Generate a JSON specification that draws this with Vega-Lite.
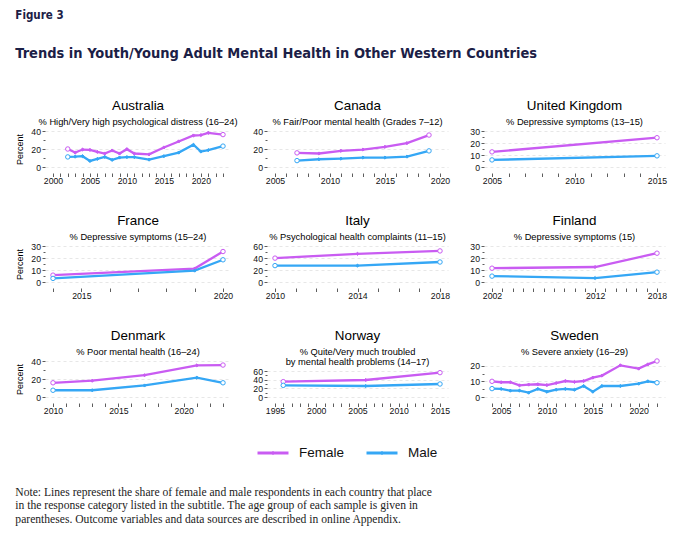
{
  "$schema": "https://vega.github.io/schema/vega-lite/v6.json",
  "background": "white",
  "padding": {"left": 15, "top": 10, "right": 10, "bottom": 8},
  "title": {
    "text": [
      "Note: Lines represent the share of female and male respondents in each country that place",
      "in the response category listed in the subtitle. The age group of each sample is given in",
      "parentheses. Outcome variables and data sources are described in online Appendix."
    ],
    "orient": "bottom", "anchor": "start", "frame": "bounds",
    "font": "Liberation Serif", "fontSize": 11.6, "fontWeight": "normal",
    "color": "#222222", "lineHeight": 13.3, "offset": 24
  },
  "data": {
    "values": [
      {"country": "Australia", "sex": "Female", "year": 2002, "pct": 20},
      {"country": "Australia", "sex": "Female", "year": 2003, "pct": 16},
      {"country": "Australia", "sex": "Female", "year": 2004, "pct": 19.4},
      {"country": "Australia", "sex": "Female", "year": 2005, "pct": 19},
      {"country": "Australia", "sex": "Female", "year": 2006, "pct": 16.8},
      {"country": "Australia", "sex": "Female", "year": 2007, "pct": 15},
      {"country": "Australia", "sex": "Female", "year": 2008, "pct": 18.3},
      {"country": "Australia", "sex": "Female", "year": 2009, "pct": 15},
      {"country": "Australia", "sex": "Female", "year": 2010, "pct": 19.8},
      {"country": "Australia", "sex": "Female", "year": 2011, "pct": 15},
      {"country": "Australia", "sex": "Female", "year": 2013, "pct": 14},
      {"country": "Australia", "sex": "Female", "year": 2015, "pct": 21.7},
      {"country": "Australia", "sex": "Female", "year": 2017, "pct": 28.4},
      {"country": "Australia", "sex": "Female", "year": 2019, "pct": 35},
      {"country": "Australia", "sex": "Female", "year": 2020, "pct": 35.5},
      {"country": "Australia", "sex": "Female", "year": 2021, "pct": 38},
      {"country": "Australia", "sex": "Female", "year": 2023, "pct": 36},
      {"country": "Australia", "sex": "Male", "year": 2002, "pct": 11.2},
      {"country": "Australia", "sex": "Male", "year": 2003, "pct": 11.5},
      {"country": "Australia", "sex": "Male", "year": 2004, "pct": 12},
      {"country": "Australia", "sex": "Male", "year": 2005, "pct": 6.7},
      {"country": "Australia", "sex": "Male", "year": 2006, "pct": 9},
      {"country": "Australia", "sex": "Male", "year": 2007, "pct": 11.2},
      {"country": "Australia", "sex": "Male", "year": 2008, "pct": 7.9},
      {"country": "Australia", "sex": "Male", "year": 2009, "pct": 10.5},
      {"country": "Australia", "sex": "Male", "year": 2010, "pct": 11},
      {"country": "Australia", "sex": "Male", "year": 2011, "pct": 11},
      {"country": "Australia", "sex": "Male", "year": 2013, "pct": 8.2},
      {"country": "Australia", "sex": "Male", "year": 2015, "pct": 12},
      {"country": "Australia", "sex": "Male", "year": 2017, "pct": 16},
      {"country": "Australia", "sex": "Male", "year": 2019, "pct": 24.7},
      {"country": "Australia", "sex": "Male", "year": 2020, "pct": 17.2},
      {"country": "Australia", "sex": "Male", "year": 2021, "pct": 18.7},
      {"country": "Australia", "sex": "Male", "year": 2023, "pct": 23.2},
      {"country": "Canada", "sex": "Female", "year": 2007, "pct": 15.7},
      {"country": "Canada", "sex": "Female", "year": 2009, "pct": 15},
      {"country": "Canada", "sex": "Female", "year": 2011, "pct": 18},
      {"country": "Canada", "sex": "Female", "year": 2013, "pct": 19.4},
      {"country": "Canada", "sex": "Female", "year": 2015, "pct": 22.4},
      {"country": "Canada", "sex": "Female", "year": 2017, "pct": 26.5},
      {"country": "Canada", "sex": "Female", "year": 2019, "pct": 35.5},
      {"country": "Canada", "sex": "Male", "year": 2007, "pct": 7.1},
      {"country": "Canada", "sex": "Male", "year": 2009, "pct": 8.6},
      {"country": "Canada", "sex": "Male", "year": 2011, "pct": 9.3},
      {"country": "Canada", "sex": "Male", "year": 2013, "pct": 10.5},
      {"country": "Canada", "sex": "Male", "year": 2015, "pct": 10.5},
      {"country": "Canada", "sex": "Male", "year": 2017, "pct": 11.6},
      {"country": "Canada", "sex": "Male", "year": 2019, "pct": 17.9},
      {"country": "United Kingdom", "sex": "Female", "year": 2005, "pct": 12.6},
      {"country": "United Kingdom", "sex": "Female", "year": 2015, "pct": 24.4},
      {"country": "United Kingdom", "sex": "Male", "year": 2005, "pct": 5.9},
      {"country": "United Kingdom", "sex": "Male", "year": 2015, "pct": 9.3},
      {"country": "France", "sex": "Female", "year": 2014, "pct": 5.7},
      {"country": "France", "sex": "Female", "year": 2019, "pct": 11.2},
      {"country": "France", "sex": "Female", "year": 2020, "pct": 25.4},
      {"country": "France", "sex": "Male", "year": 2014, "pct": 3},
      {"country": "France", "sex": "Male", "year": 2019, "pct": 9.5},
      {"country": "France", "sex": "Male", "year": 2020, "pct": 18.5},
      {"country": "Italy", "sex": "Female", "year": 2010, "pct": 39.8},
      {"country": "Italy", "sex": "Female", "year": 2014, "pct": 47},
      {"country": "Italy", "sex": "Female", "year": 2018, "pct": 51.8},
      {"country": "Italy", "sex": "Male", "year": 2010, "pct": 27.3},
      {"country": "Italy", "sex": "Male", "year": 2014, "pct": 27.3},
      {"country": "Italy", "sex": "Male", "year": 2018, "pct": 33.3},
      {"country": "Finland", "sex": "Female", "year": 2002, "pct": 11.5},
      {"country": "Finland", "sex": "Female", "year": 2012, "pct": 12.5},
      {"country": "Finland", "sex": "Female", "year": 2018, "pct": 24},
      {"country": "Finland", "sex": "Male", "year": 2002, "pct": 4.9},
      {"country": "Finland", "sex": "Male", "year": 2012, "pct": 3.3},
      {"country": "Finland", "sex": "Male", "year": 2018, "pct": 8.2},
      {"country": "Denmark", "sex": "Female", "year": 2010, "pct": 15.8},
      {"country": "Denmark", "sex": "Female", "year": 2013, "pct": 18.1},
      {"country": "Denmark", "sex": "Female", "year": 2017, "pct": 24.2},
      {"country": "Denmark", "sex": "Female", "year": 2021, "pct": 35.1},
      {"country": "Denmark", "sex": "Female", "year": 2023, "pct": 35.5},
      {"country": "Denmark", "sex": "Male", "year": 2010, "pct": 7.5},
      {"country": "Denmark", "sex": "Male", "year": 2013, "pct": 7.5},
      {"country": "Denmark", "sex": "Male", "year": 2017, "pct": 12.8},
      {"country": "Denmark", "sex": "Male", "year": 2021, "pct": 21.5},
      {"country": "Denmark", "sex": "Male", "year": 2023, "pct": 15.8},
      {"country": "Norway", "sex": "Female", "year": 1996, "pct": 35.4},
      {"country": "Norway", "sex": "Female", "year": 2006, "pct": 39.2},
      {"country": "Norway", "sex": "Female", "year": 2015, "pct": 56.2},
      {"country": "Norway", "sex": "Male", "year": 1996, "pct": 26.9},
      {"country": "Norway", "sex": "Male", "year": 2006, "pct": 25.4},
      {"country": "Norway", "sex": "Male", "year": 2015, "pct": 30},
      {"country": "Sweden", "sex": "Female", "year": 2004, "pct": 10.1},
      {"country": "Sweden", "sex": "Female", "year": 2005, "pct": 9.5},
      {"country": "Sweden", "sex": "Female", "year": 2006, "pct": 9.5},
      {"country": "Sweden", "sex": "Female", "year": 2007, "pct": 7.5},
      {"country": "Sweden", "sex": "Female", "year": 2008, "pct": 8},
      {"country": "Sweden", "sex": "Female", "year": 2009, "pct": 8.2},
      {"country": "Sweden", "sex": "Female", "year": 2010, "pct": 7.7},
      {"country": "Sweden", "sex": "Female", "year": 2011, "pct": 9},
      {"country": "Sweden", "sex": "Female", "year": 2012, "pct": 10.3},
      {"country": "Sweden", "sex": "Female", "year": 2013, "pct": 9.7},
      {"country": "Sweden", "sex": "Female", "year": 2014, "pct": 10.3},
      {"country": "Sweden", "sex": "Female", "year": 2015, "pct": 12.5},
      {"country": "Sweden", "sex": "Female", "year": 2016, "pct": 13.8},
      {"country": "Sweden", "sex": "Female", "year": 2018, "pct": 20.4},
      {"country": "Sweden", "sex": "Female", "year": 2020, "pct": 18.3},
      {"country": "Sweden", "sex": "Female", "year": 2021, "pct": 21},
      {"country": "Sweden", "sex": "Female", "year": 2022, "pct": 23.2},
      {"country": "Sweden", "sex": "Male", "year": 2004, "pct": 5.4},
      {"country": "Sweden", "sex": "Male", "year": 2005, "pct": 5.2},
      {"country": "Sweden", "sex": "Male", "year": 2006, "pct": 4.1},
      {"country": "Sweden", "sex": "Male", "year": 2007, "pct": 4.1},
      {"country": "Sweden", "sex": "Male", "year": 2008, "pct": 2.8},
      {"country": "Sweden", "sex": "Male", "year": 2009, "pct": 5.2},
      {"country": "Sweden", "sex": "Male", "year": 2010, "pct": 3.4},
      {"country": "Sweden", "sex": "Male", "year": 2011, "pct": 4.7},
      {"country": "Sweden", "sex": "Male", "year": 2012, "pct": 5.2},
      {"country": "Sweden", "sex": "Male", "year": 2013, "pct": 4.7},
      {"country": "Sweden", "sex": "Male", "year": 2014, "pct": 7.1},
      {"country": "Sweden", "sex": "Male", "year": 2015, "pct": 3.4},
      {"country": "Sweden", "sex": "Male", "year": 2016, "pct": 7.1},
      {"country": "Sweden", "sex": "Male", "year": 2018, "pct": 7.1},
      {"country": "Sweden", "sex": "Male", "year": 2020, "pct": 8.6},
      {"country": "Sweden", "sex": "Male", "year": 2021, "pct": 10.1},
      {"country": "Sweden", "sex": "Male", "year": 2022, "pct": 9.2}
    ]
  },
  "spacing": 27,
  "vconcat": [
    {
      "columns": 3,
      "bounds": "flush",
      "align": "each",
      "spacing": {"row": 67, "column": 36},
      "title": {
        "text": "Figure 3",
        "subtitle": "Trends in Youth/Young Adult Mental Health in Other Western Countries",
        "anchor": "start", "frame": "bounds",
        "font": "DejaVu Sans Condensed", "fontSize": 11.5, "fontWeight": "bold", "color": "#1b2046",
        "subtitleFont": "DejaVu Sans Condensed", "subtitleFontSize": 14.5, "subtitleFontWeight": "bold",
        "subtitleColor": "#1b2046", "subtitlePadding": 25, "offset": 39
      },
      "concat": [
        {
          "width": 186, "height": 48,
          "title": {"text": "Australia", "subtitle": "% High/Very high psychological distress (16–24)"},
          "transform": [
            {"filter": "datum.country == 'Australia'"},
            {"joinaggregate": [{"op": "min", "field": "year", "as": "first"}, {"op": "max", "field": "year", "as": "last"}], "groupby": ["sex"]}
          ],
          "encoding": {
            "x": {"field": "year", "type": "quantitative",
              "scale": {"domain": [2000, 2023], "padding": 8, "nice": false, "zero": false},
              "axis": {"title": null, "format": "d",
                "values": [2000, 2001, 2002, 2003, 2004, 2005, 2006, 2007, 2008, 2009, 2010, 2011, 2012, 2013, 2014, 2015, 2016, 2017, 2018, 2019, 2020, 2021, 2022, 2023],
                "labelExpr": "datum.value % 5 == 0 ? datum.label : ''"}},
            "y": {"field": "pct", "type": "quantitative",
              "scale": {"domain": [0, 40], "padding": 6, "nice": false},
              "axis": {"title": "Percent", "values": [0, 10, 20, 30, 40],
                "labelExpr": "datum.value % 20 == 0 ? datum.label : ''",
                "tickSize": {"condition": {"test": "datum.value % 20 == 0", "value": 3}, "value": 2},
                "gridOpacity": {"condition": {"test": "datum.value % 20 == 0", "value": 1}, "value": 0}}},
            "color": {"field": "sex", "type": "nominal", "legend": null}
          },
          "layer": [
            {"mark": {"type": "line", "strokeWidth": 2.3}},
            {"mark": {"type": "point", "filled": true, "strokeWidth": 1, "opacity": 1},
              "encoding": {
                "shape": {"condition": {"test": "datum.year == datum.first || datum.year == datum.last", "value": "circle"}, "value": "diamond"},
                "size": {"condition": {"test": "datum.year == datum.first || datum.year == datum.last", "value": 20}, "value": 10},
                "fill": {"condition": {"test": "datum.year == datum.first || datum.year == datum.last", "value": "white"}, "field": "sex", "type": "nominal", "legend": null},
                "stroke": {"field": "sex", "type": "nominal", "legend": null}
              }}
          ]
        },
        {
          "width": 181, "height": 48,
          "title": {"text": "Canada", "subtitle": "% Fair/Poor mental health (Grades 7–12)"},
          "transform": [
            {"filter": "datum.country == 'Canada'"},
            {"joinaggregate": [{"op": "min", "field": "year", "as": "first"}, {"op": "max", "field": "year", "as": "last"}], "groupby": ["sex"]}
          ],
          "encoding": {
            "x": {"field": "year", "type": "quantitative",
              "scale": {"domain": [2005, 2020], "padding": 8, "nice": false, "zero": false},
              "axis": {"title": null, "format": "d",
                "values": [2005, 2006, 2007, 2008, 2009, 2010, 2011, 2012, 2013, 2014, 2015, 2016, 2017, 2018, 2019, 2020],
                "labelExpr": "datum.value % 5 == 0 ? datum.label : ''"}},
            "y": {"field": "pct", "type": "quantitative",
              "scale": {"domain": [0, 40], "padding": 6, "nice": false},
              "axis": {"title": null, "values": [0, 10, 20, 30, 40],
                "labelExpr": "datum.value % 20 == 0 ? datum.label : ''",
                "tickSize": {"condition": {"test": "datum.value % 20 == 0", "value": 3}, "value": 2},
                "gridOpacity": {"condition": {"test": "datum.value % 20 == 0", "value": 1}, "value": 0}}},
            "color": {"field": "sex", "type": "nominal", "legend": null}
          },
          "layer": [
            {"mark": {"type": "line", "strokeWidth": 2.3}},
            {"mark": {"type": "point", "filled": true, "strokeWidth": 1, "opacity": 1},
              "encoding": {
                "shape": {"condition": {"test": "datum.year == datum.first || datum.year == datum.last", "value": "circle"}, "value": "diamond"},
                "size": {"condition": {"test": "datum.year == datum.first || datum.year == datum.last", "value": 20}, "value": 10},
                "fill": {"condition": {"test": "datum.year == datum.first || datum.year == datum.last", "value": "white"}, "field": "sex", "type": "nominal", "legend": null},
                "stroke": {"field": "sex", "type": "nominal", "legend": null}
              }}
          ]
        },
        {
          "width": 181, "height": 48,
          "title": {"text": "United Kingdom", "subtitle": "% Depressive symptoms (13–15)"},
          "transform": [
            {"filter": "datum.country == 'United Kingdom'"},
            {"joinaggregate": [{"op": "min", "field": "year", "as": "first"}, {"op": "max", "field": "year", "as": "last"}], "groupby": ["sex"]}
          ],
          "encoding": {
            "x": {"field": "year", "type": "quantitative",
              "scale": {"domain": [2005, 2015], "padding": 8, "nice": false, "zero": false},
              "axis": {"title": null, "format": "d",
                "values": [2005, 2006, 2007, 2008, 2009, 2010, 2011, 2012, 2013, 2014, 2015],
                "labelExpr": "datum.value % 5 == 0 ? datum.label : ''"}},
            "y": {"field": "pct", "type": "quantitative",
              "scale": {"domain": [0, 30], "padding": 6, "nice": false},
              "axis": {"title": null, "values": [0, 5, 10, 15, 20, 25, 30],
                "labelExpr": "datum.value % 10 == 0 ? datum.label : ''",
                "tickSize": {"condition": {"test": "datum.value % 10 == 0", "value": 3}, "value": 2},
                "gridOpacity": {"condition": {"test": "datum.value % 10 == 0", "value": 1}, "value": 0}}},
            "color": {"field": "sex", "type": "nominal", "legend": null}
          },
          "layer": [
            {"mark": {"type": "line", "strokeWidth": 2.3}},
            {"mark": {"type": "point", "filled": true, "strokeWidth": 1, "opacity": 1},
              "encoding": {
                "shape": {"condition": {"test": "datum.year == datum.first || datum.year == datum.last", "value": "circle"}, "value": "diamond"},
                "size": {"condition": {"test": "datum.year == datum.first || datum.year == datum.last", "value": 20}, "value": 10},
                "fill": {"condition": {"test": "datum.year == datum.first || datum.year == datum.last", "value": "white"}, "field": "sex", "type": "nominal", "legend": null},
                "stroke": {"field": "sex", "type": "nominal", "legend": null}
              }}
          ]
        },
        {
          "width": 186, "height": 48,
          "title": {"text": "France", "subtitle": "% Depressive symptoms (15–24)"},
          "transform": [
            {"filter": "datum.country == 'France'"},
            {"joinaggregate": [{"op": "min", "field": "year", "as": "first"}, {"op": "max", "field": "year", "as": "last"}], "groupby": ["sex"]}
          ],
          "encoding": {
            "x": {"field": "year", "type": "quantitative",
              "scale": {"domain": [2014, 2020], "padding": 8, "nice": false, "zero": false},
              "axis": {"title": null, "format": "d",
                "values": [2014, 2015, 2016, 2017, 2018, 2019, 2020],
                "labelExpr": "datum.value % 5 == 0 ? datum.label : ''"}},
            "y": {"field": "pct", "type": "quantitative",
              "scale": {"domain": [0, 30], "padding": 6, "nice": false},
              "axis": {"title": "Percent", "values": [0, 5, 10, 15, 20, 25, 30],
                "labelExpr": "datum.value % 10 == 0 ? datum.label : ''",
                "tickSize": {"condition": {"test": "datum.value % 10 == 0", "value": 3}, "value": 2},
                "gridOpacity": {"condition": {"test": "datum.value % 10 == 0", "value": 1}, "value": 0}}},
            "color": {"field": "sex", "type": "nominal", "legend": null}
          },
          "layer": [
            {"mark": {"type": "line", "strokeWidth": 2.3}},
            {"mark": {"type": "point", "filled": true, "strokeWidth": 1, "opacity": 1},
              "encoding": {
                "shape": {"condition": {"test": "datum.year == datum.first || datum.year == datum.last", "value": "circle"}, "value": "diamond"},
                "size": {"condition": {"test": "datum.year == datum.first || datum.year == datum.last", "value": 20}, "value": 10},
                "fill": {"condition": {"test": "datum.year == datum.first || datum.year == datum.last", "value": "white"}, "field": "sex", "type": "nominal", "legend": null},
                "stroke": {"field": "sex", "type": "nominal", "legend": null}
              }}
          ]
        },
        {
          "width": 181, "height": 48,
          "title": {"text": "Italy", "subtitle": "% Psychological health complaints (11–15)"},
          "transform": [
            {"filter": "datum.country == 'Italy'"},
            {"joinaggregate": [{"op": "min", "field": "year", "as": "first"}, {"op": "max", "field": "year", "as": "last"}], "groupby": ["sex"]}
          ],
          "encoding": {
            "x": {"field": "year", "type": "quantitative",
              "scale": {"domain": [2010, 2018], "padding": 8, "nice": false, "zero": false},
              "axis": {"title": null, "format": "d",
                "values": [2010, 2011, 2012, 2013, 2014, 2015, 2016, 2017, 2018],
                "labelExpr": "datum.value % 4 == 2 ? datum.label : ''"}},
            "y": {"field": "pct", "type": "quantitative",
              "scale": {"domain": [0, 60], "padding": 6, "nice": false},
              "axis": {"title": null, "values": [0, 10, 20, 30, 40, 50, 60],
                "labelExpr": "datum.value % 20 == 0 ? datum.label : ''",
                "tickSize": {"condition": {"test": "datum.value % 20 == 0", "value": 3}, "value": 2},
                "gridOpacity": {"condition": {"test": "datum.value % 20 == 0", "value": 1}, "value": 0}}},
            "color": {"field": "sex", "type": "nominal", "legend": null}
          },
          "layer": [
            {"mark": {"type": "line", "strokeWidth": 2.3}},
            {"mark": {"type": "point", "filled": true, "strokeWidth": 1, "opacity": 1},
              "encoding": {
                "shape": {"condition": {"test": "datum.year == datum.first || datum.year == datum.last", "value": "circle"}, "value": "diamond"},
                "size": {"condition": {"test": "datum.year == datum.first || datum.year == datum.last", "value": 20}, "value": 10},
                "fill": {"condition": {"test": "datum.year == datum.first || datum.year == datum.last", "value": "white"}, "field": "sex", "type": "nominal", "legend": null},
                "stroke": {"field": "sex", "type": "nominal", "legend": null}
              }}
          ]
        },
        {
          "width": 181, "height": 48,
          "title": {"text": "Finland", "subtitle": "% Depressive symptoms (15)"},
          "transform": [
            {"filter": "datum.country == 'Finland'"},
            {"joinaggregate": [{"op": "min", "field": "year", "as": "first"}, {"op": "max", "field": "year", "as": "last"}], "groupby": ["sex"]}
          ],
          "encoding": {
            "x": {"field": "year", "type": "quantitative",
              "scale": {"domain": [2002, 2018], "padding": 8, "nice": false, "zero": false},
              "axis": {"title": null, "format": "d",
                "values": [2002, 2003, 2004, 2005, 2006, 2007, 2008, 2009, 2010, 2011, 2012, 2013, 2014, 2015, 2016, 2017, 2018],
                "labelExpr": "indexof([2002, 2012, 2018], datum.value) >= 0 ? datum.label : ''"}},
            "y": {"field": "pct", "type": "quantitative",
              "scale": {"domain": [0, 30], "padding": 6, "nice": false},
              "axis": {"title": null, "values": [0, 5, 10, 15, 20, 25, 30],
                "labelExpr": "datum.value % 10 == 0 ? datum.label : ''",
                "tickSize": {"condition": {"test": "datum.value % 10 == 0", "value": 3}, "value": 2},
                "gridOpacity": {"condition": {"test": "datum.value % 10 == 0", "value": 1}, "value": 0}}},
            "color": {"field": "sex", "type": "nominal", "legend": null}
          },
          "layer": [
            {"mark": {"type": "line", "strokeWidth": 2.3}},
            {"mark": {"type": "point", "filled": true, "strokeWidth": 1, "opacity": 1},
              "encoding": {
                "shape": {"condition": {"test": "datum.year == datum.first || datum.year == datum.last", "value": "circle"}, "value": "diamond"},
                "size": {"condition": {"test": "datum.year == datum.first || datum.year == datum.last", "value": 20}, "value": 10},
                "fill": {"condition": {"test": "datum.year == datum.first || datum.year == datum.last", "value": "white"}, "field": "sex", "type": "nominal", "legend": null},
                "stroke": {"field": "sex", "type": "nominal", "legend": null}
              }}
          ]
        },
        {
          "width": 186, "height": 48,
          "title": {"text": "Denmark", "subtitle": "% Poor mental health (16–24)"},
          "transform": [
            {"filter": "datum.country == 'Denmark'"},
            {"joinaggregate": [{"op": "min", "field": "year", "as": "first"}, {"op": "max", "field": "year", "as": "last"}], "groupby": ["sex"]}
          ],
          "encoding": {
            "x": {"field": "year", "type": "quantitative",
              "scale": {"domain": [2010, 2023], "padding": 8, "nice": false, "zero": false},
              "axis": {"title": null, "format": "d",
                "values": [2010, 2011, 2012, 2013, 2014, 2015, 2016, 2017, 2018, 2019, 2020, 2021, 2022, 2023],
                "labelExpr": "datum.value % 5 == 0 ? datum.label : ''"}},
            "y": {"field": "pct", "type": "quantitative",
              "scale": {"domain": [0, 40], "padding": 6, "nice": false},
              "axis": {"title": "Percent", "values": [0, 10, 20, 30, 40],
                "labelExpr": "datum.value % 20 == 0 ? datum.label : ''",
                "tickSize": {"condition": {"test": "datum.value % 20 == 0", "value": 3}, "value": 2},
                "gridOpacity": {"condition": {"test": "datum.value % 20 == 0", "value": 1}, "value": 0}}},
            "color": {"field": "sex", "type": "nominal", "legend": null}
          },
          "layer": [
            {"mark": {"type": "line", "strokeWidth": 2.3}},
            {"mark": {"type": "point", "filled": true, "strokeWidth": 1, "opacity": 1},
              "encoding": {
                "shape": {"condition": {"test": "datum.year == datum.first || datum.year == datum.last", "value": "circle"}, "value": "diamond"},
                "size": {"condition": {"test": "datum.year == datum.first || datum.year == datum.last", "value": 20}, "value": 10},
                "fill": {"condition": {"test": "datum.year == datum.first || datum.year == datum.last", "value": "white"}, "field": "sex", "type": "nominal", "legend": null},
                "stroke": {"field": "sex", "type": "nominal", "legend": null}
              }}
          ]
        },
        {
          "width": 181, "height": 48,
          "title": {"text": "Norway", "subtitle": ["% Quite/Very much troubled", "by mental health problems (14–17)"], "offset": -12},
          "transform": [
            {"filter": "datum.country == 'Norway'"},
            {"joinaggregate": [{"op": "min", "field": "year", "as": "first"}, {"op": "max", "field": "year", "as": "last"}], "groupby": ["sex"]}
          ],
          "encoding": {
            "x": {"field": "year", "type": "quantitative",
              "scale": {"domain": [1995, 2015], "padding": 8, "nice": false, "zero": false},
              "axis": {"title": null, "format": "d",
                "values": [1995, 1996, 1997, 1998, 1999, 2000, 2001, 2002, 2003, 2004, 2005, 2006, 2007, 2008, 2009, 2010, 2011, 2012, 2013, 2014, 2015],
                "labelExpr": "datum.value % 5 == 0 ? datum.label : ''"}},
            "y": {"field": "pct", "type": "quantitative",
              "scale": {"domain": [0, 60], "range": [42, 16], "nice": false},
              "axis": {"title": null, "values": [0, 10, 20, 30, 40, 50, 60],
                "labelExpr": "datum.value % 20 == 0 ? datum.label : ''",
                "tickSize": {"condition": {"test": "datum.value % 20 == 0", "value": 3}, "value": 2},
                "gridOpacity": {"condition": {"test": "datum.value % 20 == 0", "value": 1}, "value": 0}}},
            "color": {"field": "sex", "type": "nominal", "legend": null}
          },
          "layer": [
            {"mark": {"type": "line", "strokeWidth": 2.3}},
            {"mark": {"type": "point", "filled": true, "strokeWidth": 1, "opacity": 1},
              "encoding": {
                "shape": {"condition": {"test": "datum.year == datum.first || datum.year == datum.last", "value": "circle"}, "value": "diamond"},
                "size": {"condition": {"test": "datum.year == datum.first || datum.year == datum.last", "value": 20}, "value": 10},
                "fill": {"condition": {"test": "datum.year == datum.first || datum.year == datum.last", "value": "white"}, "field": "sex", "type": "nominal", "legend": null},
                "stroke": {"field": "sex", "type": "nominal", "legend": null}
              }}
          ]
        },
        {
          "width": 181, "height": 48,
          "title": {"text": "Sweden", "subtitle": "% Severe anxiety (16–29)"},
          "transform": [
            {"filter": "datum.country == 'Sweden'"},
            {"joinaggregate": [{"op": "min", "field": "year", "as": "first"}, {"op": "max", "field": "year", "as": "last"}], "groupby": ["sex"]}
          ],
          "encoding": {
            "x": {"field": "year", "type": "quantitative",
              "scale": {"domain": [2004, 2022], "padding": 8, "nice": false, "zero": false},
              "axis": {"title": null, "format": "d",
                "values": [2004, 2005, 2006, 2007, 2008, 2009, 2010, 2011, 2012, 2013, 2014, 2015, 2016, 2017, 2018, 2019, 2020, 2021, 2022],
                "labelExpr": "datum.value % 5 == 0 ? datum.label : ''"}},
            "y": {"field": "pct", "type": "quantitative",
              "scale": {"domain": [0, 23.2], "padding": 6, "nice": false},
              "axis": {"title": null, "values": [0, 5, 10, 15, 20],
                "labelExpr": "datum.value % 10 == 0 ? datum.label : ''",
                "tickSize": {"condition": {"test": "datum.value % 10 == 0", "value": 3}, "value": 2},
                "gridOpacity": {"condition": {"test": "datum.value % 10 == 0", "value": 1}, "value": 0}}},
            "color": {"field": "sex", "type": "nominal", "legend": null}
          },
          "layer": [
            {"mark": {"type": "line", "strokeWidth": 2.3}},
            {"mark": {"type": "point", "filled": true, "strokeWidth": 1, "opacity": 1},
              "encoding": {
                "shape": {"condition": {"test": "datum.year == datum.first || datum.year == datum.last", "value": "circle"}, "value": "diamond"},
                "size": {"condition": {"test": "datum.year == datum.first || datum.year == datum.last", "value": 20}, "value": 10},
                "fill": {"condition": {"test": "datum.year == datum.first || datum.year == datum.last", "value": "white"}, "field": "sex", "type": "nominal", "legend": null},
                "stroke": {"field": "sex", "type": "nominal", "legend": null}
              }}
          ]
        }
      ]
    },
    {
      "width": 565, "height": 20,
      "transform": [{"aggregate": [{"op": "count", "as": "n"}], "groupby": ["sex"]}],
      "encoding": {
        "x": {"field": "sex", "type": "nominal", "scale": {"type": "point", "domain": ["Female", "Male"], "range": [228, 337], "padding": 0}, "axis": null},
        "color": {"field": "sex", "type": "nominal", "legend": null}
      },
      "layer": [
        {"mark": {"type": "tick", "orient": "horizontal", "thickness": 3, "size": 31, "opacity": 1}},
        {"mark": {"type": "point", "shape": "diamond", "filled": true, "size": 18, "opacity": 1}},
        {"mark": {"type": "text", "align": "left", "baseline": "middle", "dx": 26, "fontSize": 13.5, "font": "Liberation Sans"},
          "encoding": {"text": {"field": "sex"}, "color": {"value": "#111111"}}}
      ]
    }
  ],
  "config": {
    "view": {"stroke": null},
    "font": "Liberation Sans",
    "range": {"category": ["#c95cf2", "#35a7f5"]},
    "title": {
      "font": "Liberation Sans", "fontSize": 13.4, "fontWeight": "normal", "color": "#000000",
      "subtitleFont": "Liberation Sans", "subtitleFontSize": 9.3, "subtitleColor": "#000000",
      "subtitlePadding": 5, "subtitleLineHeight": 10, "offset": -2, "anchor": "middle", "frame": "group"
    },
    "axis": {
      "domain": false, "labelFont": "Liberation Sans", "labelFontSize": 8.7, "labelColor": "#111111",
      "tickColor": "#333333", "tickWidth": 0.8, "labelOverlap": false, "labelBound": false, "labelFlush": false
    },
    "axisX": {"grid": false, "tickSize": 3.5, "labelPadding": 0, "labelAngle": 0},
    "axisY": {
      "grid": true, "gridColor": "#dddddd", "gridDash": [3, 3], "gridWidth": 0.7,
      "labelPadding": 1.5, "titleFont": "Liberation Sans", "titleFontSize": 9, "titleFontWeight": "normal",
      "titleColor": "#000000", "titlePadding": 6.5
    }
  }
}
